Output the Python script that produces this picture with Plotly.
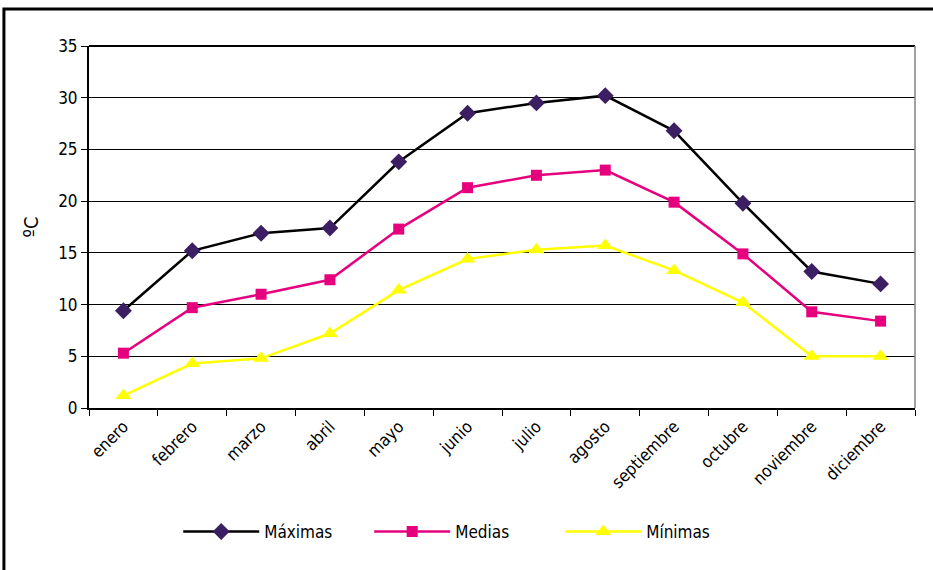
import plotly.graph_objects as go

meses = ["enero", "febrero", "marzo", "abril", "mayo", "junio", "julio",
         "agosto", "septiembre", "octubre", "noviembre", "diciembre"]
maximas = [9.4, 15.2, 16.9, 17.4, 23.8, 28.5, 29.5, 30.2, 26.8, 19.8, 13.2, 12.0]
medias = [5.3, 9.7, 11.0, 12.4, 17.3, 21.3, 22.5, 23.0, 19.9, 14.9, 9.3, 8.4]
minimas = [1.2, 4.3, 4.8, 7.2, 11.4, 14.4, 15.3, 15.7, 13.3, 10.2, 5.0, 5.0]

FONT = "DejaVu Sans Condensed, Liberation Sans Narrow, Arial Narrow, Liberation Sans, sans-serif"

fig = go.Figure()

fig.add_trace(go.Scatter(
    x=meses, y=maximas, mode="lines+markers", name="Máximas",
    line=dict(color="#000000", width=2.5),
    marker=dict(symbol="diamond", size=13, color="#3b1f62"),
))
fig.add_trace(go.Scatter(
    x=meses, y=medias, mode="lines+markers", name="Medias",
    line=dict(color="#e6007e", width=2.5),
    marker=dict(symbol="square", size=11, color="#e6007e"),
))
fig.add_trace(go.Scatter(
    x=meses, y=minimas, mode="lines+markers", name="Mínimas",
    line=dict(color="#ffff00", width=2.5),
    marker=dict(symbol="triangle-up", size=14, color="#ffff00"),
))

# --- frames ---
shapes = [
    # outer chart border
    dict(type="rect", xref="paper", yref="paper", x0=-0.103, x1=1.04, y0=-0.48, y1=1.102,
         line=dict(color="black", width=3), layer="below"),
    # plot area top and right edges
    dict(type="line", xref="paper", yref="paper", x0=0, x1=1, y0=1, y1=1,
         line=dict(color="black", width=2)),
    dict(type="line", xref="paper", yref="paper", x0=1, x1=1, y0=0, y1=1,
         line=dict(color="#808080", width=1.5)),
]

fig.update_layout(
    width=933, height=570,
    margin=dict(l=89, r=18, t=46, b=162),
    plot_bgcolor="white", paper_bgcolor="white",
    font=dict(family=FONT, size=17, color="black"),
    showlegend=True,
    legend=dict(orientation="h", x=0.108, xanchor="left", y=-0.3425, yanchor="middle",
                font=dict(size=17), itemwidth=76, entrywidthmode="pixels", entrywidth=100),
    shapes=shapes,
    xaxis=dict(
        type="category", tickson="boundaries", ticks="outside", ticklen=6,
        tickcolor="black", showline=True, linecolor="black", linewidth=2,
        showgrid=False, tickangle=-45, range=[-0.5, 11.5], automargin=False,
    ),
    yaxis=dict(
        range=[0, 35], dtick=5, ticks="outside", ticklen=6, tickcolor="black",
        showline=True, linecolor="black", linewidth=2,
        showgrid=True, gridcolor="black", gridwidth=1, zeroline=False,
        title=dict(text="ºC", standoff=14), automargin=False,
    ),
)

fig.write_html("out.html", config={"displayModeBar": False},
               post_script="document.body.style.margin = '0';")
